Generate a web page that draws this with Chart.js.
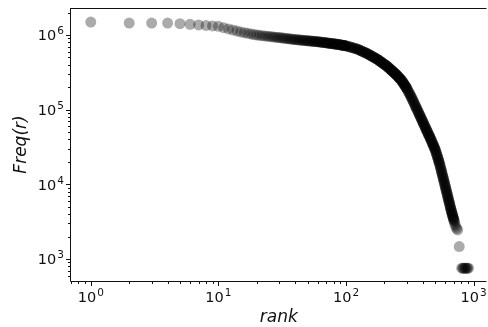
<!DOCTYPE html>
<html>
<head>
<meta charset="utf-8">
<script src="https://cdn.jsdelivr.net/npm/chart.js@4"></script>
<style>
  html, body { margin: 0; padding: 0; background: #fff; overflow: hidden; width: 488px; height: 327px; }
  canvas { display: block; }
</style>
</head>
<body>
<canvas id="chart" width="492" height="327"></canvas>
<script>
// rank of each plotted word (every rank at the top, thinned out further down)
const ranks = [
  1,2,3,4,5,6,7,8,9,10,11,12,13,14,15,16,17,18,19,20,
  21,22,23,24,25,26,27,28,29,30,31,32,33,34,35,36,37,38,39,40,
  41,42,43,44,45,46,47,48,49,50,51,52,53,54,55,56,57,58,59,60,
  61,62,63,64,65,66,67,68,69,70,71,72,73,74,75,76,77,78,79,80,
  81,82,83,84,85,86,87,88,89,90,91,92,93,94,95,96,97,98,99,100,
  102,104,106,108,110,112,114,116,118,120,
  122,124,126,128,130,132,134,136,138,140,142,144,146,
  148,150,152,154,156,158,160,162,164,166,168,170,172,174,
  176,178,180,182,184,186,188,190,192,194,196,198,200,202,204,206,208,
  210,212,214,216,218,220,222,224,226,228,230,232,234,236,238,240,242,244,246,248,
  250,252,254,256,258,260,262,264,266,268,270,272,
  274,276,278,280,282,284,286,288,290,292,294,296,298,
  300,303,306,309,312,315,318,321,324,
  327,330,333,336,339,342,345,348,351,354,357,
  360,363,366,369,372,375,378,381,384,387,390,393,396,399,402,
  405,408,411,414,417,420,423,426,429,432,435,438,441,444,447,450,
  453,456,459,462,465,468,471,474,477,480,483,486,489,492,495,498,
  501,504,507,510,513,516,519,522,525,528,531,534,537,540,
  543,546,549,552,555,558,561,564,567,570,573,576,579,582,585,588,591,
  594,597,600,603,606,609,612,615,618,621,624,627,630,633,636,639,642,645,648,651,654,657,660,663,
  666,669,672,675,678,681,684,687,690,693,696,699,702,705,
  712,722,735,750,771,806,821,836,851,866,881,896,911
];

// frequency of the word at that rank
const freq = [
  1490000,1445000,1445000,1445000,1420000,1389000,1363000,1342000,1323000,1306000,
  1253000,1207000,1167000,1130000,1096000,1074000,1053000,1034000,1016000,1000000,
  990000,981000,972000,964000,956000,949000,942000,935000,929000,923000,
  916000,910000,905000,899000,894000,889000,884000,879000,874000,870000,
  865000,861000,858000,855000,852000,849000,846000,843000,840000,837000,
  835000,832000,829000,827000,824000,822000,820000,817000,815000,813000,
  810000,807000,804000,801000,798000,796000,793000,791000,788000,785000,
  783000,780000,778000,776000,773000,771000,769000,767000,764000,762000,
  760000,758000,756000,754000,752000,750000,747000,745000,742000,740000,
  737000,735000,732000,730000,728000,725000,723000,721000,718000,716000,
  709000,703000,696000,690000,684000,678000,672000,666000,661000,656000,
  650000,643000,635000,627000,619000,612000,605000,598000,591000,585000,578000,572000,566000,
  559000,551000,545000,538000,531000,525000,519000,513000,507000,501000,495000,490000,484000,479000,
  473000,467000,460000,454000,448000,442000,436000,431000,426000,420000,415000,410000,405000,400000,395000,391000,386000,
  381000,375000,370000,365000,359000,354000,349000,345000,340000,335000,331000,326000,322000,318000,313000,309000,305000,302000,298000,294000,
  290000,286000,281000,277000,273000,269000,265000,262000,258000,254000,251000,247000,
  243000,238000,234000,230000,226000,221000,217000,213000,210000,206000,202000,199000,195000,
  191000,185000,179000,173000,168000,163000,158000,153000,148000,
  144000,139000,134000,130000,126000,122000,118000,114000,111000,107000,104000,
  101000,97900,95100,92200,89400,86800,84400,81900,79600,77300,75200,73100,71100,69100,67200,
  65300,63600,61800,60200,58600,57000,55500,54100,52700,51300,50000,48700,47500,46300,45200,44100,
  43300,42200,41000,40000,39000,38000,37000,36100,35200,34300,33500,32700,31900,31100,30300,29600,
  28800,27900,27000,26100,25300,24500,23700,23000,22300,21600,20900,20300,19600,19100,
  18400,17700,17000,16400,15800,15300,14700,14200,13700,13200,12800,12300,11900,11500,11100,10700,10350,
  9990,9640,9310,9000,8690,8400,8110,7840,7580,7330,7090,6850,6630,6410,6210,6000,5810,5630,5450,5280,5110,4950,4800,4640,
  4500,4380,4260,4150,4040,3930,3830,3730,3630,3540,3450,3360,3270,3190,
  2950,2750,2570,2450,1470,753,753,753,753,753,753,753,753
];

const xMajor = [1, 10, 100, 1000];
const yMajor = [1000, 10000, 100000, 1000000];
const xTickLabels = ["0", "1", "2", "3"];
const yTickLabels = ["3", "4", "5", "6"];

const points = ranks.map((r, i) => ({ x: r, y: freq[i] }));

// matplotlib style frame, ticks and 10^n labels
const axesPlugin = {
  id: "axesPlugin",
  afterDraw(chart) {
    const ctx = chart.ctx;
    const a = chart.chartArea;
    const xs = chart.scales.x;
    const ys = chart.scales.y;
    ctx.save();
    ctx.strokeStyle = "#111";
    ctx.lineWidth = 1;
    ctx.beginPath();
    ctx.moveTo(a.left - 0.5, a.top + 0.5);
    ctx.lineTo(a.right, a.top + 0.5);
    ctx.moveTo(a.left - 0.5, a.top);
    ctx.lineTo(a.left - 0.5, a.bottom + 0.5);
    ctx.lineTo(a.right, a.bottom + 0.5);
    ctx.stroke();

    const xmin = xs.min, xmax = xs.max, ymin = ys.min, ymax = ys.max;
    ctx.beginPath();
    for (let k = -1; k <= 3; k++) {
      for (let m = 1; m <= 9; m++) {
        const v = m * Math.pow(10, k);
        if (v < xmin || v > xmax) continue;
        const px = Math.round(xs.getPixelForValue(v)) + 0.5;
        const len = m === 1 ? 4.5 : 2.5;
        ctx.moveTo(px, a.bottom + 0.5);
        ctx.lineTo(px, a.bottom + 0.5 + len);
      }
    }
    for (let k = 2; k <= 6; k++) {
      for (let m = 1; m <= 9; m++) {
        const v = m * Math.pow(10, k);
        if (v < ymin || v > ymax) continue;
        const py = Math.round(ys.getPixelForValue(v)) + 0.5;
        const len = m === 1 ? 4.5 : 2.5;
        ctx.moveTo(a.left - 0.5, py);
        ctx.lineTo(a.left - 0.5 - len, py);
      }
    }
    ctx.stroke();

    const base = '14.5px "DejaVu Sans"';
    const sup = '10.5px "DejaVu Sans"';
    ctx.fillStyle = "#111";
    ctx.textBaseline = "alphabetic";

    const labelWidth = (exp) => {
      ctx.font = base;
      const w1 = ctx.measureText("10").width;
      ctx.font = sup;
      const w2 = ctx.measureText(exp).width;
      return [w1, w2];
    };

    xMajor.forEach((v, i) => {
      if (v < xmin || v > xmax) return;
      const px = xs.getPixelForValue(v);
      const [w1, w2] = labelWidth(xTickLabels[i]);
      const x0 = px - (w1 + w2 + 1) / 2;
      const baseY = a.bottom + 21;
      ctx.font = base;
      ctx.textAlign = "left";
      ctx.fillText("10", x0, baseY);
      ctx.font = sup;
      ctx.fillText(xTickLabels[i], x0 + w1 + 1, baseY - 6);
    });

    yMajor.forEach((v, i) => {
      if (v < ymin || v > ymax) return;
      const py = ys.getPixelForValue(v);
      const [w1, w2] = labelWidth(yTickLabels[i]);
      const right = a.left - 7;
      const x0 = right - (w1 + w2 + 1);
      const baseY = py + 5.3;
      ctx.font = base;
      ctx.textAlign = "left";
      ctx.fillText("10", x0, baseY);
      ctx.font = sup;
      ctx.fillText(yTickLabels[i], x0 + w1 + 1, baseY - 6);
    });

    ctx.font = 'oblique 17px "DejaVu Sans"';
    ctx.textAlign = "center";
    ctx.fillText("rank", (a.left + a.right) / 2, 322);

    ctx.translate(26, (a.top + a.bottom) / 2);
    ctx.rotate(-Math.PI / 2);
    ctx.fillText("Freq(r)", 0, 0);
    ctx.restore();
  },
};

const ctx = document.getElementById("chart").getContext("2d");
const chart = new Chart(ctx, {
  type: "scatter",
  data: {
    datasets: [
      {
        label: "Freq",
        data: points,
        backgroundColor: "rgba(0, 0, 0, 0.33)",
        borderWidth: 0,
        pointRadius: 5.5,
        pointHoverRadius: 5.5,
      },
    ],
  },
  options: {
    responsive: false,
    animation: false,
    devicePixelRatio: 1,
    layout: { padding: { left: 71, top: 8, right: 1, bottom: 46 } },
    plugins: { legend: { display: false }, tooltip: { enabled: false } },
    scales: {
      x: { type: "logarithmic", min: 0.713, max: 1261, display: false },
      y: { type: "logarithmic", min: 507.6, max: 2300000, display: false },
    },
  },
  plugins: [axesPlugin],
});
</script>
</body>
</html>
